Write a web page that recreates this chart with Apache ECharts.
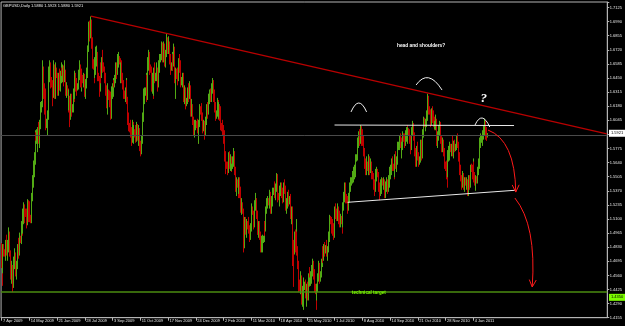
<!DOCTYPE html>
<html><head><meta charset="utf-8">
<script src="https://cdn.jsdelivr.net/npm/echarts@6/dist/echarts.min.js"></script>
<style>html,body{margin:0;padding:0;background:#000;}#c{width:625px;height:326px;}</style>
</head><body><div id="c"></div>
<script>
// ---------- data (GBPUSD daily, [open, high, low, close]) ----------
const symbolTitle = 'GBPUSD,Daily 1.5880 1.5923 1.5880 1.5921';
const xTickLabels = ['7 Apr 2009','14 May 2009','21 Jun 2009','28 Jul 2009','3 Sep 2009','11 Oct 2009','17 Nov 2009','24 Dec 2009','2 Feb 2010','11 Mar 2010','18 Apr 2010','25 May 2010','1 Jul 2010','8 Aug 2010','14 Sep 2010','21 Oct 2010','28 Nov 2010','4 Jan 2011'];
const barsPerLabel = 32;
const slotCount = 699;
const yTickStart = 1.4155, yTickStep = 0.0135, yMax = 1.7178;
const lastPrice = 1.5921;
const targetPrice = 1.4350;

const bars2009a = [
[1.482,1.487,1.463,1.468],[1.468,1.474,1.446,1.462],[1.462,1.486,1.458,1.481],[1.481,1.486,1.474,1.478],
[1.478,1.481,1.474,1.476],[1.476,1.490,1.470,1.487],[1.487,1.495,1.475,1.480],[1.480,1.490,1.470,1.487],[1.487,1.502,1.478,1.493],[1.493,1.498,1.476,1.480],
[1.480,1.482,1.474,1.477],[1.477,1.480,1.452,1.456],[1.456,1.470,1.448,1.462],[1.462,1.466,1.440,1.448],[1.448,1.474,1.444,1.470],[1.470,1.482,1.462,1.475],
[1.475,1.478,1.466,1.468],[1.468,1.474,1.455,1.461],[1.461,1.470,1.452,1.466],[1.466,1.486,1.462,1.482],[1.482,1.492,1.472,1.479],[1.479,1.497,1.475,1.491],
[1.491,1.494,1.487,1.490],[1.490,1.508,1.486,1.503],[1.503,1.509,1.494,1.500],[1.500,1.520,1.496,1.512],[1.512,1.526,1.505,1.518],[1.518,1.524,1.506,1.517],
[1.517,1.520,1.512,1.515],[1.515,1.520,1.501,1.507],[1.507,1.529,1.504,1.524],[1.524,1.528,1.507,1.512],[1.512,1.525,1.508,1.520],[1.520,1.527,1.507,1.511],
[1.511,1.514,1.506,1.509],[1.509,1.535,1.506,1.531],[1.531,1.552,1.527,1.548],[1.548,1.566,1.540,1.561],[1.561,1.574,1.550,1.566],[1.566,1.595,1.562,1.590],
[1.590,1.593,1.585,1.588],[1.588,1.596,1.582,1.590],[1.590,1.598,1.574,1.592],[1.592,1.603,1.582,1.590],[1.590,1.605,1.578,1.600],[1.600,1.622,1.596,1.615],
[1.615,1.623,1.612,1.620],[1.620,1.656,1.617,1.650],[1.650,1.662,1.640,1.652],[1.652,1.656,1.625,1.630],[1.630,1.640,1.610,1.618],[1.618,1.635,1.595,1.600],
[1.600,1.606,1.597,1.603],[1.603,1.614,1.590,1.610],[1.610,1.638,1.605,1.634],[1.634,1.656,1.628,1.650],[1.650,1.662,1.641,1.655],[1.655,1.660,1.635,1.643],
[1.643,1.646,1.636,1.640],[1.640,1.643,1.618,1.630],[1.630,1.662,1.626,1.656],[1.656,1.658,1.625,1.630],[1.630,1.649,1.625,1.645],[1.645,1.660,1.640,1.653],
[1.653,1.655,1.645,1.647],[1.647,1.650,1.628,1.634],[1.634,1.650,1.628,1.643],[1.643,1.654,1.633,1.637],[1.637,1.652,1.632,1.645],[1.645,1.660,1.640,1.652]
];
const bars2009b = [
[1.652,1.655,1.647,1.650],[1.650,1.658,1.641,1.654],[1.654,1.657,1.637,1.645],[1.645,1.662,1.641,1.650],[1.650,1.653,1.628,1.633],[1.633,1.641,1.626,1.636],
[1.636,1.638,1.628,1.630],[1.630,1.635,1.612,1.620],[1.620,1.634,1.614,1.622],[1.622,1.628,1.598,1.608],[1.608,1.630,1.605,1.625],[1.625,1.630,1.608,1.616],
[1.616,1.620,1.612,1.618],[1.618,1.635,1.612,1.632],[1.632,1.640,1.622,1.628],[1.628,1.652,1.625,1.648],[1.648,1.650,1.632,1.640],[1.640,1.645,1.628,1.636],
[1.636,1.640,1.633,1.638],[1.638,1.653,1.634,1.648],[1.648,1.662,1.643,1.655],[1.655,1.658,1.636,1.641],[1.641,1.652,1.632,1.648],[1.648,1.654,1.636,1.645],
[1.645,1.648,1.640,1.643],[1.643,1.650,1.636,1.646],[1.646,1.649,1.627,1.632],[1.632,1.644,1.625,1.640],[1.640,1.655,1.635,1.648],[1.648,1.676,1.645,1.670],
[1.670,1.676,1.668,1.674],[1.674,1.699,1.670,1.692],[1.692,1.700,1.680,1.690],[1.690,1.704,1.683,1.697],[1.697,1.701,1.673,1.680],[1.680,1.684,1.654,1.660],
[1.660,1.663,1.653,1.656],[1.656,1.662,1.640,1.648],[1.648,1.665,1.645,1.659],[1.659,1.675,1.648,1.664],[1.664,1.676,1.656,1.666],[1.666,1.670,1.642,1.648],
[1.648,1.650,1.642,1.645],[1.645,1.647,1.627,1.636],[1.636,1.658,1.632,1.655],[1.655,1.660,1.640,1.652],[1.652,1.665,1.645,1.658],[1.658,1.672,1.650,1.656],
[1.656,1.660,1.651,1.654],[1.654,1.656,1.640,1.645],[1.645,1.650,1.628,1.633],[1.633,1.638,1.616,1.622],[1.622,1.632,1.610,1.628],[1.628,1.640,1.620,1.632],
[1.632,1.634,1.624,1.628],[1.628,1.633,1.617,1.625],[1.625,1.632,1.605,1.610],[1.610,1.637,1.606,1.632],[1.632,1.640,1.625,1.636],[1.636,1.645,1.627,1.641],
[1.641,1.643,1.636,1.640],[1.640,1.648,1.636,1.644],[1.644,1.660,1.640,1.655],[1.655,1.660,1.644,1.652],[1.652,1.668,1.648,1.664],[1.664,1.670,1.655,1.664],
[1.664,1.666,1.658,1.660],[1.660,1.664,1.645,1.651],[1.651,1.660,1.640,1.656],[1.656,1.662,1.640,1.647],[1.647,1.650,1.634,1.640],[1.640,1.643,1.625,1.630],
[1.630,1.633,1.625,1.628],[1.628,1.636,1.622,1.631],[1.631,1.645,1.628,1.640],[1.640,1.643,1.620,1.624],[1.624,1.627,1.600,1.605],[1.605,1.612,1.594,1.599],
[1.599,1.602,1.593,1.596],[1.596,1.605,1.588,1.593],[1.593,1.598,1.580,1.587],[1.587,1.605,1.583,1.598],[1.598,1.603,1.585,1.590],[1.590,1.600,1.582,1.594]
];
const bars2009c = [
[1.594,1.596,1.588,1.592],[1.592,1.600,1.583,1.588],[1.588,1.603,1.584,1.598],[1.598,1.601,1.585,1.590],[1.590,1.600,1.580,1.595],[1.595,1.597,1.575,1.580],
[1.580,1.583,1.575,1.578],[1.578,1.585,1.570,1.576],[1.576,1.590,1.572,1.585],[1.585,1.612,1.582,1.607],[1.607,1.635,1.603,1.630],[1.630,1.636,1.620,1.632],
[1.632,1.636,1.628,1.634],[1.634,1.650,1.630,1.645],[1.645,1.648,1.622,1.628],[1.628,1.665,1.624,1.660],[1.660,1.672,1.652,1.666],[1.666,1.670,1.648,1.655],
[1.655,1.658,1.650,1.652],[1.652,1.656,1.632,1.640],[1.640,1.650,1.630,1.644],[1.644,1.648,1.625,1.632],[1.632,1.655,1.628,1.650],[1.650,1.660,1.640,1.646],
[1.646,1.650,1.642,1.648],[1.648,1.660,1.642,1.652],[1.652,1.655,1.632,1.640],[1.640,1.662,1.636,1.658],[1.658,1.666,1.650,1.660],[1.660,1.668,1.652,1.662],
[1.662,1.668,1.660,1.666],[1.666,1.680,1.662,1.676],[1.676,1.679,1.660,1.665],[1.665,1.680,1.660,1.676],[1.676,1.678,1.656,1.661],[1.661,1.672,1.655,1.668],
[1.668,1.672,1.665,1.670],[1.670,1.688,1.666,1.680],[1.680,1.684,1.668,1.674],[1.674,1.685,1.668,1.678],[1.678,1.680,1.658,1.663],[1.663,1.668,1.648,1.655],
[1.655,1.660,1.652,1.657],[1.657,1.670,1.652,1.664],[1.664,1.668,1.652,1.660],[1.660,1.678,1.656,1.672],[1.672,1.675,1.640,1.648],[1.648,1.655,1.625,1.650],
[1.650,1.654,1.644,1.648],[1.648,1.655,1.638,1.646],[1.646,1.664,1.642,1.660],[1.660,1.668,1.655,1.664],[1.664,1.668,1.650,1.658],[1.658,1.662,1.636,1.642],
[1.642,1.646,1.638,1.644],[1.644,1.650,1.636,1.648],[1.648,1.650,1.622,1.627],[1.627,1.638,1.620,1.632],[1.632,1.636,1.620,1.627],[1.627,1.635,1.615,1.622],
[1.622,1.626,1.618,1.624],[1.624,1.636,1.620,1.632],[1.632,1.640,1.622,1.630],[1.630,1.642,1.625,1.635],[1.635,1.638,1.608,1.613],[1.613,1.625,1.608,1.618],
[1.618,1.620,1.612,1.615],[1.615,1.618,1.600,1.604],[1.604,1.608,1.590,1.594],[1.594,1.605,1.588,1.600],[1.600,1.605,1.595,1.602],
[1.602,1.604,1.597,1.600],[1.600,1.606,1.592,1.598],[1.598,1.600,1.582,1.586],[1.586,1.605,1.582,1.600],[1.600,1.620,1.598,1.615]
];
const bars2010a = [
[1.615,1.618,1.610,1.612],[1.612,1.621,1.604,1.610],[1.610,1.612,1.592,1.598],[1.598,1.605,1.594,1.600],[1.600,1.604,1.586,1.592],[1.592,1.608,1.590,1.603],
[1.603,1.606,1.600,1.604],[1.604,1.620,1.600,1.616],[1.616,1.622,1.606,1.612],[1.612,1.630,1.610,1.627],[1.627,1.634,1.620,1.630],[1.630,1.635,1.622,1.625],
[1.625,1.628,1.622,1.626],[1.626,1.640,1.624,1.636],[1.636,1.645,1.630,1.641],[1.641,1.643,1.622,1.628],[1.628,1.634,1.612,1.616],[1.616,1.622,1.604,1.610],
[1.610,1.614,1.606,1.612],[1.612,1.626,1.608,1.620],[1.620,1.624,1.605,1.612],[1.612,1.622,1.606,1.615],[1.615,1.620,1.604,1.610],[1.610,1.618,1.595,1.598],
[1.598,1.602,1.594,1.597],[1.597,1.605,1.590,1.596],[1.596,1.600,1.582,1.590],[1.590,1.595,1.578,1.585],[1.585,1.590,1.565,1.570],[1.570,1.575,1.553,1.562],
[1.562,1.565,1.558,1.560],[1.560,1.565,1.552,1.557],[1.557,1.574,1.554,1.570],[1.570,1.575,1.558,1.564],[1.564,1.572,1.556,1.566],[1.566,1.570,1.555,1.560],
[1.560,1.563,1.556,1.561],[1.561,1.570,1.558,1.566],[1.566,1.578,1.560,1.572],[1.572,1.575,1.552,1.556],[1.556,1.560,1.536,1.540],[1.540,1.550,1.532,1.545],
[1.545,1.548,1.540,1.542],[1.542,1.546,1.530,1.538],[1.538,1.550,1.534,1.546],[1.546,1.550,1.530,1.538],[1.538,1.541,1.516,1.520],[1.520,1.530,1.514,1.524],
[1.524,1.526,1.515,1.518],[1.518,1.520,1.478,1.490],[1.490,1.500,1.482,1.495],[1.495,1.512,1.490,1.508],[1.508,1.512,1.495,1.500],[1.500,1.510,1.492,1.505],
[1.505,1.508,1.500,1.503],[1.503,1.512,1.496,1.500],[1.500,1.504,1.488,1.494],[1.494,1.506,1.490,1.502],[1.502,1.516,1.498,1.512],[1.512,1.525,1.508,1.520],
[1.520,1.522,1.514,1.516],[1.516,1.518,1.500,1.505],[1.505,1.528,1.502,1.524],[1.524,1.535,1.518,1.528],[1.528,1.530,1.510,1.515],[1.515,1.518,1.495,1.500],
[1.500,1.503,1.495,1.498],[1.498,1.508,1.492,1.504],[1.504,1.508,1.490,1.495],[1.495,1.498,1.478,1.484],[1.484,1.494,1.478,1.488],[1.488,1.495,1.478,1.490],
[1.490,1.494,1.487,1.492],[1.492,1.508,1.488,1.504],[1.504,1.508,1.494,1.500],[1.500,1.522,1.498,1.518],[1.518,1.530,1.515,1.525],[1.525,1.532,1.520,1.527]
];
const bars2010b = [
[1.527,1.530,1.523,1.526],[1.526,1.538,1.520,1.534],[1.534,1.536,1.518,1.522],[1.522,1.530,1.515,1.520],[1.520,1.532,1.515,1.526],[1.526,1.540,1.522,1.536],
[1.536,1.540,1.533,1.538],[1.538,1.546,1.530,1.536],[1.536,1.544,1.528,1.540],[1.540,1.554,1.536,1.550],[1.550,1.553,1.536,1.540],[1.540,1.545,1.526,1.532],
[1.532,1.535,1.528,1.530],[1.530,1.542,1.522,1.538],[1.538,1.545,1.532,1.540],[1.540,1.545,1.530,1.536],[1.536,1.540,1.525,1.530],[1.530,1.545,1.526,1.540],
[1.540,1.544,1.536,1.542],[1.542,1.548,1.534,1.540],[1.540,1.542,1.518,1.524],[1.524,1.530,1.515,1.526],[1.526,1.536,1.520,1.530],[1.530,1.538,1.522,1.528],
[1.528,1.532,1.524,1.530],[1.530,1.534,1.522,1.527],[1.527,1.530,1.510,1.515],[1.515,1.522,1.505,1.518],[1.518,1.522,1.465,1.482],[1.482,1.490,1.445,1.478],
[1.478,1.498,1.476,1.494],[1.494,1.500,1.478,1.486],[1.486,1.510,1.480,1.496],[1.496,1.498,1.475,1.480],[1.480,1.484,1.462,1.467],[1.467,1.470,1.440,1.448],
[1.448,1.452,1.441,1.445],[1.445,1.460,1.438,1.452],[1.452,1.456,1.428,1.435],[1.435,1.446,1.426,1.440],[1.440,1.454,1.423,1.444],[1.444,1.450,1.433,1.446],
[1.446,1.450,1.442,1.448],[1.448,1.452,1.434,1.440],[1.440,1.448,1.426,1.445],[1.445,1.450,1.432,1.436],[1.436,1.458,1.432,1.453],[1.453,1.464,1.445,1.450],
[1.450,1.454,1.446,1.452],[1.452,1.460,1.446,1.456],[1.456,1.466,1.448,1.460],[1.460,1.472,1.455,1.468],[1.468,1.470,1.452,1.458],[1.458,1.462,1.440,1.445],
[1.445,1.448,1.438,1.442],[1.442,1.448,1.423,1.438],[1.438,1.448,1.432,1.444],[1.444,1.458,1.440,1.455],[1.455,1.470,1.450,1.465],[1.465,1.468,1.448,1.452],
[1.452,1.460,1.450,1.456],[1.456,1.472,1.454,1.468],[1.468,1.482,1.464,1.478],[1.478,1.484,1.468,1.474],[1.474,1.486,1.470,1.482],[1.482,1.488,1.474,1.480],
[1.480,1.485,1.477,1.483],[1.483,1.490,1.474,1.478],[1.478,1.484,1.470,1.482],[1.482,1.498,1.478,1.494],[1.494,1.504,1.488,1.500],[1.500,1.514,1.496,1.510],
[1.510,1.513,1.505,1.508],[1.508,1.512,1.496,1.505],[1.505,1.510,1.494,1.500],[1.500,1.506,1.490,1.495],[1.495,1.522,1.492,1.518],[1.518,1.525,1.510,1.516]
];
const bars2010c = [
[1.516,1.519,1.512,1.515],[1.515,1.520,1.508,1.514],[1.514,1.525,1.508,1.516],[1.516,1.522,1.505,1.512],[1.512,1.518,1.502,1.506],[1.506,1.515,1.502,1.510],
[1.510,1.513,1.505,1.508],[1.508,1.512,1.496,1.505],[1.505,1.526,1.502,1.522],[1.522,1.536,1.518,1.530],[1.530,1.545,1.526,1.542],[1.542,1.545,1.525,1.530],
[1.530,1.534,1.525,1.528],[1.528,1.532,1.515,1.522],[1.522,1.535,1.518,1.532],[1.532,1.540,1.526,1.536],[1.536,1.545,1.530,1.542],[1.542,1.550,1.536,1.546],
[1.546,1.550,1.542,1.548],[1.548,1.556,1.544,1.552],[1.552,1.560,1.545,1.555],[1.555,1.562,1.548,1.558],[1.558,1.568,1.550,1.564],[1.564,1.572,1.558,1.568],
[1.568,1.572,1.565,1.570],[1.570,1.588,1.566,1.584],[1.584,1.594,1.578,1.590],[1.590,1.596,1.580,1.586],[1.586,1.600,1.582,1.594],[1.594,1.599,1.580,1.592],
[1.592,1.596,1.588,1.590],[1.590,1.594,1.580,1.586],[1.586,1.590,1.570,1.575],[1.575,1.578,1.558,1.562],[1.562,1.568,1.552,1.558],[1.558,1.570,1.552,1.562],
[1.562,1.565,1.556,1.558],[1.558,1.566,1.552,1.562],[1.562,1.572,1.556,1.566],[1.566,1.570,1.552,1.558],[1.558,1.568,1.554,1.562],[1.562,1.565,1.548,1.553],
[1.553,1.556,1.548,1.551],[1.551,1.554,1.538,1.544],[1.544,1.548,1.532,1.540],[1.540,1.552,1.536,1.548],[1.548,1.558,1.542,1.552],[1.552,1.560,1.546,1.556],
[1.556,1.558,1.550,1.552],[1.552,1.555,1.536,1.540],[1.540,1.545,1.528,1.536],[1.536,1.548,1.532,1.545],[1.545,1.548,1.535,1.540],[1.540,1.550,1.534,1.546],
[1.546,1.549,1.542,1.544],[1.544,1.550,1.538,1.545],[1.545,1.548,1.530,1.535],[1.535,1.546,1.530,1.542],[1.542,1.550,1.536,1.545],[1.545,1.548,1.534,1.540],
[1.540,1.544,1.536,1.542],[1.542,1.552,1.538,1.548],[1.548,1.560,1.540,1.556],[1.556,1.562,1.548,1.558],[1.558,1.568,1.552,1.564],[1.564,1.570,1.556,1.560],
[1.560,1.563,1.556,1.558],[1.558,1.562,1.548,1.554],[1.554,1.572,1.550,1.568],[1.568,1.575,1.558,1.562],[1.562,1.570,1.555,1.566],[1.566,1.584,1.562,1.580],
[1.580,1.584,1.576,1.582],[1.582,1.590,1.576,1.586],[1.586,1.592,1.578,1.584],[1.584,1.588,1.572,1.578],[1.578,1.584,1.568,1.580],[1.580,1.594,1.576,1.590]
];
const bars2010d = [
[1.590,1.592,1.584,1.588],[1.588,1.592,1.578,1.584],[1.584,1.595,1.580,1.590],[1.590,1.598,1.584,1.592],[1.592,1.600,1.585,1.588],[1.588,1.598,1.582,1.594],
[1.594,1.597,1.590,1.592],[1.592,1.596,1.582,1.586],[1.586,1.590,1.572,1.580],[1.580,1.598,1.576,1.594],[1.594,1.604,1.590,1.598],[1.598,1.602,1.585,1.590],
[1.590,1.593,1.585,1.588],[1.588,1.590,1.570,1.574],[1.574,1.578,1.560,1.565],[1.565,1.580,1.560,1.576],[1.576,1.584,1.566,1.570],[1.570,1.574,1.560,1.566],
[1.566,1.570,1.562,1.568],[1.568,1.580,1.564,1.576],[1.576,1.586,1.570,1.582],[1.582,1.586,1.566,1.572],[1.572,1.596,1.568,1.592],[1.592,1.608,1.588,1.604],
[1.604,1.607,1.598,1.600],[1.600,1.606,1.594,1.602],[1.602,1.614,1.598,1.610],[1.610,1.620,1.604,1.616],[1.616,1.630,1.612,1.626],[1.626,1.628,1.610,1.614],
[1.614,1.618,1.610,1.612],[1.612,1.615,1.598,1.604],[1.604,1.616,1.600,1.612],[1.612,1.618,1.602,1.608],[1.608,1.614,1.598,1.602],[1.602,1.608,1.595,1.600],
[1.600,1.604,1.596,1.602],[1.602,1.610,1.595,1.604],[1.604,1.606,1.580,1.586],[1.586,1.594,1.578,1.590],[1.590,1.600,1.585,1.596],[1.596,1.604,1.590,1.600],
[1.600,1.603,1.595,1.598],[1.598,1.600,1.582,1.586],[1.586,1.590,1.574,1.580],[1.580,1.588,1.574,1.584],[1.584,1.586,1.570,1.575],[1.575,1.578,1.558,1.562],
[1.562,1.565,1.556,1.560],[1.560,1.566,1.548,1.556],[1.556,1.560,1.540,1.554],[1.554,1.576,1.550,1.572],[1.572,1.580,1.565,1.576],[1.576,1.584,1.566,1.578],
[1.578,1.582,1.574,1.576],[1.576,1.582,1.570,1.578],[1.578,1.590,1.570,1.574],[1.574,1.580,1.568,1.576],[1.576,1.585,1.570,1.580],[1.580,1.586,1.574,1.578],
[1.578,1.582,1.575,1.580],[1.580,1.590,1.576,1.586],[1.586,1.592,1.578,1.582],[1.582,1.584,1.565,1.570],[1.570,1.574,1.552,1.556],[1.556,1.562,1.548,1.552],
[1.552,1.555,1.546,1.548],[1.548,1.552,1.538,1.545],[1.545,1.556,1.540,1.550],[1.550,1.554,1.538,1.542],[1.542,1.550,1.536,1.546],[1.546,1.550,1.542,1.545],
[1.545,1.548,1.540,1.543],[1.543,1.550,1.538,1.546],[1.546,1.548,1.532,1.536],[1.536,1.552,1.532,1.548],[1.548,1.552,1.538,1.544],[1.544,1.562,1.540,1.560]
];
const bars2011 = [
[1.560,1.563,1.555,1.558],[1.558,1.562,1.548,1.555],[1.555,1.568,1.550,1.562],[1.562,1.565,1.545,1.550],[1.550,1.555,1.542,1.546],[1.546,1.552,1.537,1.548],
[1.548,1.551,1.544,1.546],[1.546,1.560,1.544,1.556],[1.556,1.568,1.552,1.564],[1.564,1.576,1.558,1.572],[1.572,1.588,1.568,1.584],[1.584,1.592,1.578,1.586],
[1.586,1.590,1.583,1.588],[1.588,1.595,1.580,1.592],[1.592,1.600,1.586,1.596],[1.596,1.606,1.590,1.600],[1.600,1.604,1.586,1.592],[1.592,1.598,1.585,1.590],
[1.590,1.592,1.585,1.588],[1.5880,1.5923,1.5880,1.5921]
];

// ---------- build ----------
const allBars = [].concat(bars2009a, bars2009b, bars2009c, bars2010a, bars2010b, bars2010c, bars2010d, bars2011);
const candleData = allBars.map(b => [b[0], b[3], b[2], b[1]]); // ECharts: [open, close, low, high]
const categories = Array.from({length: slotCount}, (_, i) => String(i));

const FONT = 'Liberation Sans';
const bull = '#52aa14', bear = '#c00000';
const axisGray = '#b4b4b4';

const chart = echarts.init(document.getElementById('c'), null, {renderer: 'canvas'});
chart.setOption({
  backgroundColor: '#000',
  animation: false,
  grid: {left: 1, right: 16, top: 2, bottom: 8.3, show: true, borderColor: axisGray, borderWidth: 1, backgroundColor: '#000'},
  xAxis: {
    type: 'category', data: categories, boundaryGap: true,
    axisLine: {show: true, lineStyle: {color: axisGray, width: 1}},
    axisTick: {show: true, alignWithLabel: true, length: 3, lineStyle: {color: axisGray},
      interval: (i) => i % barsPerLabel === 0 && i / barsPerLabel < xTickLabels.length},
    axisLabel: {show: true, interval: (i) => i % barsPerLabel === 0 && i / barsPerLabel < xTickLabels.length,
      formatter: (v) => xTickLabels[Number(v) / barsPerLabel] || '',
      color: '#e6e6e6', fontSize: 4, fontFamily: FONT, align: 'left', margin: 1.5, padding: [0,0,0,1.5]},
    splitLine: {show: false}
  },
  yAxis: {
    type: 'value', position: 'right', scale: true,
    min: yTickStart, max: yMax, interval: yTickStep,
    axisLine: {show: true, lineStyle: {color: axisGray, width: 1}},
    axisTick: {show: true, length: 2, lineStyle: {color: axisGray}},
    axisLabel: {show: true, color: '#e6e6e6', fontSize: 4, fontFamily: FONT, margin: 2.5,
      formatter: (v) => { const k = (v - yTickStart) / yTickStep; return Math.abs(k - Math.round(k)) < 1e-6 ? v.toFixed(4) : ''; }},
    splitLine: {show: false}
  },
  series: [{
    type: 'candlestick', data: candleData, barWidth: 0.2,
    itemStyle: {color: bull, color0: bear, borderColor: bull, borderColor0: bear, borderWidth: 1},
    markLine: {
      silent: true, symbol: ['none', 'none'], label: {show: false}, animation: false,
      data: [
        {yAxis: lastPrice, lineStyle: {color: '#4a4a4a', width: 1, type: 'solid'}},
        {yAxis: targetPrice, lineStyle: {color: '#4b8c10', width: 1.6, type: 'solid'}},
        [{coord: [103, 1.7043], lineStyle: {color: '#b80000', width: 1.3, type: 'solid'}}, {coord: [698, 1.5915]}],
        [{coord: [384, 1.6000], lineStyle: {color: '#e8e8e8', width: 1, type: 'solid'}}, {coord: [591, 1.5995]}],
        [{coord: [399, 1.5260], lineStyle: {color: '#e8e8e8', width: 1, type: 'solid'}}, {coord: [592, 1.5375]}]
      ]
    }
  }]
});

// ---------- annotations (anchored in data space) ----------
const P = (i, p) => chart.convertToPixel({gridIndex: 0}, [i, p]);
function bez(a, c, b, color, w) {
  const A = P(a[0], a[1]), C = P(c[0], c[1]), B = P(b[0], b[1]);
  return {type: 'bezierCurve', silent: true, z: 50, shape: {x1: A[0], y1: A[1], cpx1: C[0], cpy1: C[1], x2: B[0], y2: B[1]},
    style: {stroke: color, lineWidth: w, fill: null}};
}
function arrowHead(c, b, color) {
  const C = P(c[0], c[1]), B = P(b[0], b[1]);
  const ang = Math.atan2(B[1] - C[1], B[0] - C[0]);
  const L = 8, s = 0.45;
  return {type: 'polyline', silent: true, z: 50, shape: {points: [
    [B[0] - L * Math.cos(ang - s), B[1] - L * Math.sin(ang - s)], B,
    [B[0] - L * Math.cos(ang + s), B[1] - L * Math.sin(ang + s)]]}, style: {stroke: color, lineWidth: 1, fill: null}};
}
function txt(i, p, text, font, color, align) {
  const Q = P(i, p);
  return {type: 'text', silent: true, z: 60, x: Q[0], y: Q[1], style: {text, font, fill: color, align: align || 'left', verticalAlign: 'middle'}};
}
const yLast = P(0, lastPrice)[1], yTarget = P(0, targetPrice)[1];
const g = [
  {type: 'text', silent: true, z: 60, x: 3, y: 5.5, style: {text: symbolTitle, font: '4px ' + FONT, fill: '#f0f0f0', verticalAlign: 'middle'}},
  bez([403.0, 1.6125], [412.2, 1.6297], [421.4, 1.6125], '#f0f0f0', 1),
  bez([477.8, 1.6383], [491.6, 1.6546], [507.7, 1.6335], '#f0f0f0', 1),
  bez([545.6, 1.6000], [553.6, 1.6144], [562.8, 1.5981], '#f0f0f0', 1),
  txt(455.9, 1.6756, 'head and shoulders?', 'bold 4.8px ' + FONT, '#ffffff'),
  txt(555.9, 1.6249, '?', 'bold italic 13px Liberation Serif', '#ffffff', 'center'),
  txt(404.2, 1.4391, 'technical target', 'bold 4.6px ' + FONT, '#7cfc00'),
  bez([560.5, 1.5952], [591.6, 1.5856], [592.7, 1.5358], '#ff1a1a', 1),
  arrowHead([591.6, 1.5856], [592.7, 1.5358], '#ff1a1a'),
  bez([591.6, 1.5301], [616.9, 1.5042], [612.3, 1.4449], '#ff1a1a', 1),
  arrowHead([616.9, 1.5042], [612.3, 1.4449], '#ff1a1a'),
  {type: 'rect', silent: true, z: 70, shape: {x: 609, y: yLast - 3.5, width: 16, height: 7}, style: {fill: '#ffffff'}},
  {type: 'text', silent: true, z: 71, x: 611, y: yLast, style: {text: lastPrice.toFixed(4), font: '4px ' + FONT, fill: '#000', verticalAlign: 'middle'}},
  {type: 'rect', silent: true, z: 70, shape: {x: 609, y: yTarget - 3.5, width: 16, height: 7}, style: {fill: '#7cfc00'}},
  {type: 'text', silent: true, z: 71, x: 611, y: yTarget, style: {text: targetPrice.toFixed(4), font: '4px ' + FONT, fill: '#000', verticalAlign: 'middle'}}
];
chart.setOption({graphic: g});
</script>
</body></html>
